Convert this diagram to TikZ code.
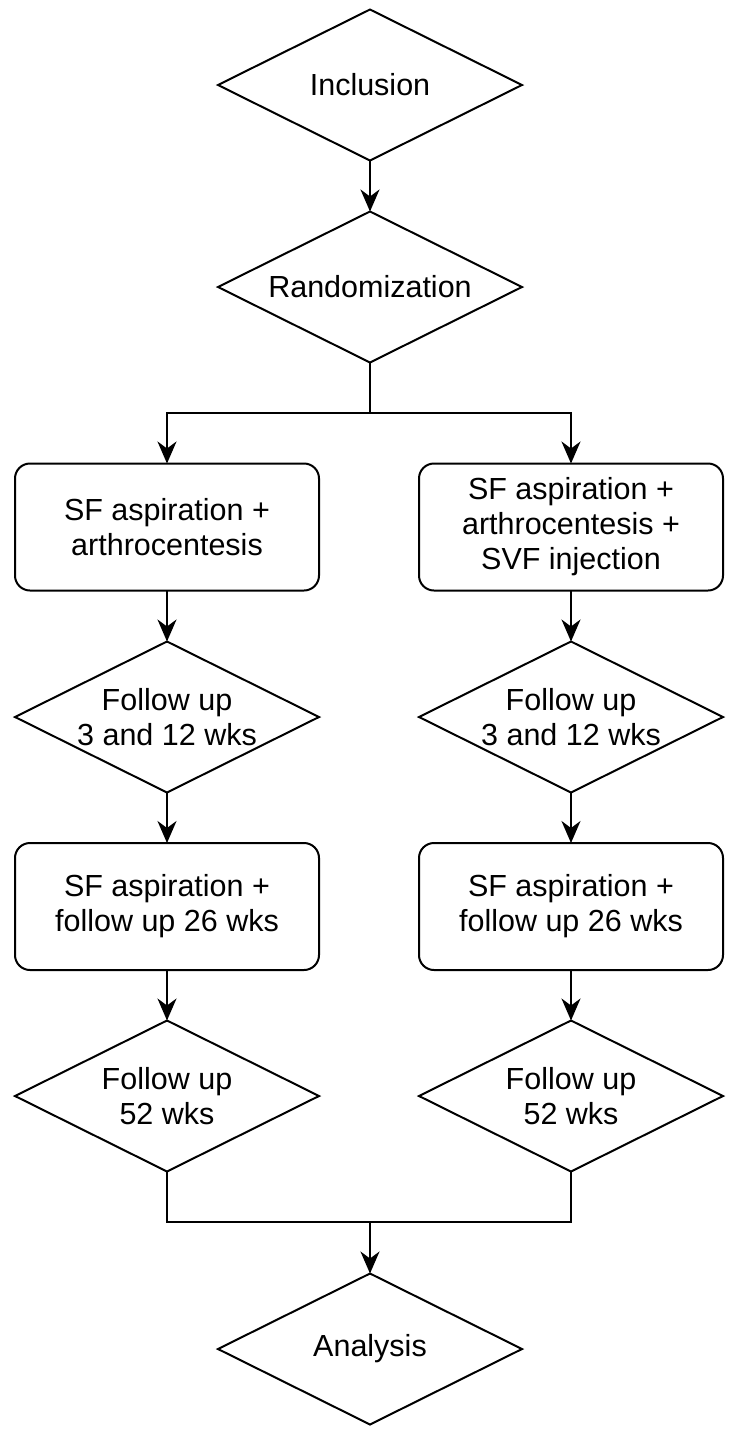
\documentclass[tikz,border=0pt]{standalone}
\usepackage{fontspec}
\setmainfont{Liberation Sans}
\usetikzlibrary{shapes.geometric,arrows.meta}
\begin{document}
\begin{tikzpicture}[x=1pt,y=-1pt,
  every node/.style={font=\fontsize{30.5}{35}\selectfont, text=black},
  lbl/.style={align=center, inner sep=0pt},
  dia/.style={draw, line width=2pt, diamond, inner sep=0pt, outer sep=0pt, minimum width=304pt, minimum height=151pt},
  box/.style={draw, line width=2pt, rectangle, rounded corners=15pt, outer sep=0pt, minimum width=304pt, minimum height=127pt, align=center},
  arr/.style={line width=2pt, -{Stealth[length=22pt, width=19pt, inset=7pt]}},
  ln/.style={line width=2pt}]
\useasboundingbox (0,0) rectangle (736,1433);
\node[dia, label={[lbl]center:Inclusion}] (inc) at (370,85) {};
\node[dia, label={[lbl]center:Randomization}] (rand) at (370,287) {};
\node[box] (b1L) at (167,527) {SF aspiration +\\arthrocentesis};
\node[box] (b1R) at (571,527) {SF aspiration +\\arthrocentesis +\\SVF injection};
\node[dia, label={[lbl]center:{Follow up\\3 and 12 wks}}] (d1L) at (167,717) {};
\node[dia, label={[lbl]center:{Follow up\\3 and 12 wks}}] (d1R) at (571,717) {};
\node[box] (b2L) at (167,906.5) {SF aspiration +\\follow up 26 wks};
\node[box] (b2R) at (571,906.5) {SF aspiration +\\follow up 26 wks};
\node[dia, label={[lbl]center:{Follow up\\52 wks}}] (d2L) at (167,1096) {};
\node[dia, label={[lbl]center:{Follow up\\52 wks}}] (d2R) at (571,1096) {};
\node[dia, label={[lbl]center:Analysis}] (ana) at (370,1349) {};
\coordinate (sp) at (370,413);
\coordinate (mg) at (370,1222);
\draw[arr] (inc.south) -- (rand.north);
\draw[ln] (rand.south) -- (sp);
\draw[arr] (sp) -| (b1L.north);
\draw[arr] (sp) -| (b1R.north);
\draw[arr] (b1L.south) -- (d1L.north);
\draw[arr] (b1R.south) -- (d1R.north);
\draw[arr] (d1L.south) -- (b2L.north);
\draw[arr] (d1R.south) -- (b2R.north);
\draw[arr] (b2L.south) -- (d2L.north);
\draw[arr] (b2R.south) -- (d2R.north);
\draw[ln] (d2L.south) |- (mg);
\draw[ln] (d2R.south) |- (mg);
\draw[arr] (mg) -- (ana.north);
\end{tikzpicture}
\end{document}
